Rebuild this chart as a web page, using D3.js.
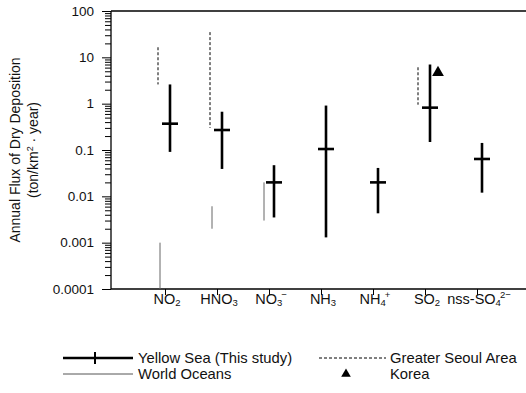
<!DOCTYPE html>
<html>
<head>
<meta charset="utf-8">
<script src="https://cdn.jsdelivr.net/npm/d3@7"></script>
<style>
  body { margin: 0; background: #fff; }
  svg { font-family: "Liberation Sans", Arial, Helvetica, sans-serif; }
</style>
</head>
<body>
<figure id="chart" style="margin:0"></figure>
<script>
// categories: [base, subscript, superscript]
const categories = ["NO2", "HNO3", "NO3-", "NH3", "NH4+", "SO2", "nss-SO42-"];
const catLabels = [["NO", "2", ""], ["HNO", "3", ""], ["NO", "3", "\u2212"], ["NH", "3", ""],
                   ["NH", "4", "+"], ["SO", "2", ""], ["nss-SO", "4", "2\u2212"]];

// Yellow Sea (this study)
const ysMid  = [0.37, 0.27, 0.020, 0.105, 0.020, 0.82, 0.064];
const ysLow  = [0.091, 0.039, 0.0035, 0.0013, 0.0043, 0.149, 0.012];
const ysHigh = [2.6, 0.67, 0.047, 0.91, 0.041, 7.0, 0.142];

// Greater Seoul Area
const seoulCats = ["NO2", "HNO3", "SO2"];
const seoulLow  = [2.6, 0.30, 0.95];
const seoulHigh = [16.5, 35, 6.1];

// World Oceans
const worldCats = ["NO2", "HNO3", "NO3-"];
const worldLow  = [0.0001, 0.002, 0.003];
const worldHigh = [0.001, 0.0061, 0.020];

// Korea
const koreaCats = ["SO2"];
const koreaVal  = [4.7];

const yTicks = [0.0001, 0.001, 0.01, 0.1, 1, 10, 100];
const yTickLabels = ["0.0001", "0.001", "0.01", "0.1", "1", "10", "100"];

const W = 526, H = 393;
const mLeft = 111, mTop = 11, mBottom = 289, mRight = 526;

const svg = d3.select("#chart").append("svg")
  .attr("width", W).attr("height", H);

const y = d3.scaleLog().domain([0.0001, 100]).range([mBottom, mTop]);
const x = d3.scalePoint().domain(categories).range([165, 477]);

// frame line at top
svg.append("line").attr("x1", mLeft).attr("x2", mRight).attr("y1", mTop).attr("y2", mTop)
  .attr("stroke", "#000").attr("stroke-width", 1.3);

// minor y ticks
const minor = y.ticks().filter(v => yTicks.indexOf(v) < 0);
svg.append("g").attr("transform", `translate(${mLeft},0)`)
  .call(d3.axisLeft(y).tickValues(minor).tickSize(6).tickFormat(""))
  .call(g => g.select(".domain").remove())
  .selectAll("line").attr("stroke-width", 1);

// major y ticks + labels
const yAxis = svg.append("g").attr("transform", `translate(${mLeft},0)`)
  .call(d3.axisLeft(y).tickValues(yTicks).tickSize(9).tickPadding(8)
    .tickFormat((d, i) => yTickLabels[i]));
yAxis.select(".domain").attr("d", `M0,${mTop}V${mBottom}`).attr("stroke-width", 1.3);
yAxis.selectAll("text").attr("font-size", 13.5).attr("fill", "#111")
  .style("font-family", "'Liberation Sans', Arial, sans-serif");

// x axis
const xAxis = svg.append("g").attr("transform", `translate(0,${mBottom})`)
  .call(d3.axisBottom(x).tickSize(6).tickFormat(""));
xAxis.select(".domain").attr("d", `M${mLeft},0H${mRight}`).attr("stroke-width", 1.3);

// category labels with sub/superscripts
const lab = svg.append("g").selectAll("text").data(categories).join("text")
  .attr("x", d => x(d) + 2).attr("y", 304)
  .attr("text-anchor", "middle").attr("font-size", 14.5).attr("fill", "#111");
lab.each(function (d, i) {
  const t = d3.select(this), p = catLabels[i];
  t.append("tspan").text(p[0]);
  t.append("tspan").attr("font-size", 9.5).attr("dy", 2).text(p[1]);
  if (p[2]) t.append("tspan").attr("font-size", 9.5).attr("dy", -8).attr("dx", -1).text(p[2]);
});

// y title
const yt = svg.append("text").attr("transform", "translate(20,150) rotate(-90)")
  .attr("text-anchor", "middle").attr("font-size", 14).attr("fill", "#111");
yt.append("tspan").attr("x", 0).attr("dy", 0).text("Annual Flux of Dry Deposition");
const l2 = yt.append("tspan").attr("x", 0).attr("dy", 18);
l2.append("tspan").text("(ton/km");
l2.append("tspan").attr("font-size", 9).attr("dy", -5).text("2");
l2.append("tspan").attr("dy", 5).text(" \u00b7 year)");

// world oceans
svg.append("g").selectAll("line").data(worldCats).join("line")
  .attr("x1", d => x(d) - 5).attr("x2", d => x(d) - 5)
  .attr("y1", (d, i) => y(worldHigh[i])).attr("y2", (d, i) => y(worldLow[i]))
  .attr("stroke", "#666").attr("stroke-width", 1);

// greater seoul
svg.append("g").selectAll("line").data(seoulCats).join("line")
  .attr("x1", d => x(d) - 7).attr("x2", d => x(d) - 7)
  .attr("y1", (d, i) => y(seoulHigh[i])).attr("y2", (d, i) => y(seoulLow[i]))
  .attr("stroke", "#000").attr("stroke-width", 1).attr("stroke-dasharray", "3,2");

// yellow sea
const ys = svg.append("g").selectAll("g").data(categories).join("g")
  .attr("transform", d => `translate(${x(d) + 5},0)`);
ys.append("line").attr("x1", 0).attr("x2", 0)
  .attr("y1", (d, i) => y(ysHigh[i])).attr("y2", (d, i) => y(ysLow[i]))
  .attr("stroke", "#000").attr("stroke-width", 2.6);
ys.append("line").attr("x1", -8).attr("x2", 8)
  .attr("y1", (d, i) => y(ysMid[i])).attr("y2", (d, i) => y(ysMid[i]))
  .attr("stroke", "#000").attr("stroke-width", 2.6);

// korea
svg.append("g").selectAll("path").data(koreaCats).join("path")
  .attr("d", d3.symbol(d3.symbolTriangle, 60))
  .attr("transform", (d, i) => `translate(${x(d) + 13},${y(koreaVal[i])})`)
  .attr("fill", "#000");

// legend
const lg = svg.append("g").attr("font-size", 14.8).attr("fill", "#111");
lg.append("line").attr("x1", 63).attr("x2", 133).attr("y1", 358).attr("y2", 358)
  .attr("stroke", "#000").attr("stroke-width", 2.6);
lg.append("line").attr("x1", 95).attr("x2", 95).attr("y1", 352).attr("y2", 364)
  .attr("stroke", "#000").attr("stroke-width", 2);
lg.append("text").attr("x", 138).attr("y", 363).text("Yellow Sea (This study)");
lg.append("line").attr("x1", 63).attr("x2", 133).attr("y1", 374).attr("y2", 374)
  .attr("stroke", "#555").attr("stroke-width", 1);
lg.append("text").attr("x", 138).attr("y", 379).text("World Oceans");
lg.append("line").attr("x1", 319).attr("x2", 386).attr("y1", 358).attr("y2", 358)
  .attr("stroke", "#000").attr("stroke-width", 1).attr("stroke-dasharray", "3,2");
lg.append("text").attr("x", 390).attr("y", 363).text("Greater Seoul Area");
lg.append("path").attr("d", d3.symbol(d3.symbolTriangle, 40))
  .attr("transform", "translate(346,374)").attr("fill", "#000");
lg.append("text").attr("x", 390).attr("y", 379).text("Korea");
</script>
</body>
</html>
